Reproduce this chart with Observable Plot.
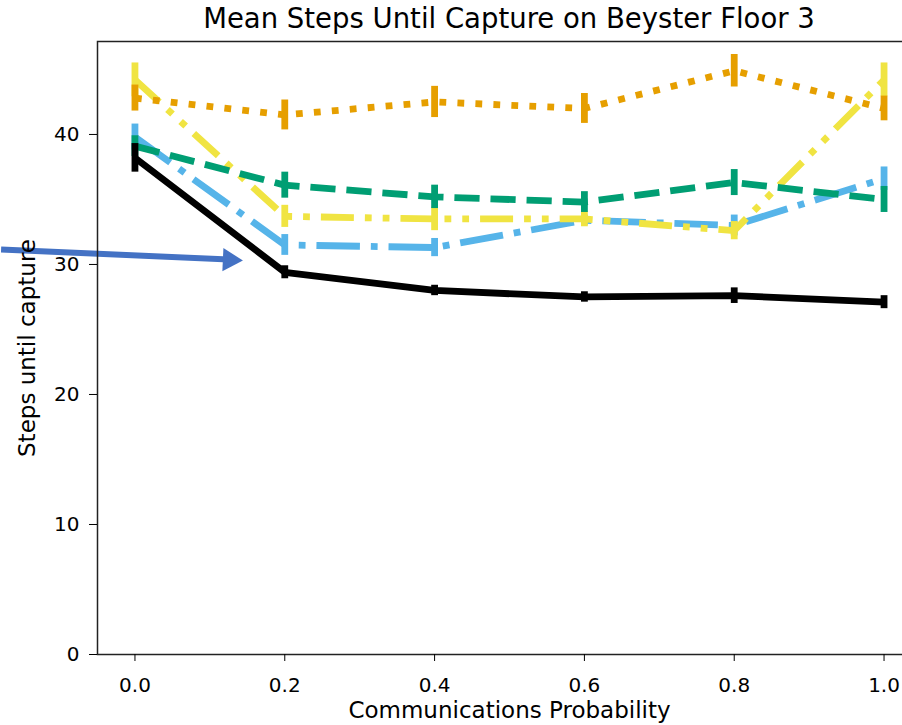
<!DOCTYPE html>
<html>
<head>
<meta charset="utf-8">
<script src="https://cdn.jsdelivr.net/npm/d3@7"></script>
<script src="https://cdn.jsdelivr.net/npm/@observablehq/plot@0.6"></script>
<style>
  body { margin: 0; background: #fff; }
  #wrap { position: relative; width: 902px; height: 725px; overflow: hidden; }
  #title { position: absolute; left: 97px; width: 824px; top: 0; height: 36px; line-height: 36px;
           text-align: center; font-family: "DejaVu Sans", sans-serif; font-size: 27.5px; color: #000; white-space: nowrap; }
  #chart { position: absolute; left: 0; top: 36px; }
</style>
</head>
<body>
<div id="wrap">
  <div id="title">Mean Steps Until Capture on Beyster Floor 3</div>
  <div id="chart"></div>
</div>
<script>
const probs = [0.0, 0.2, 0.4, 0.6, 0.8, 1.0];
const xTicks = [0.0, 0.2, 0.4, 0.6, 0.8, 1.0];
const yTicks = [0, 10, 20, 30, 40];

// series means and error half-widths
const blueMean   = [39.8, 31.5, 31.3, 33.4, 33.0, 36.6];
const blueErr    = [1.0, 0.8, 0.7, 0.4, 0.8, 0.9];
const yellowMean = [44.2, 33.7, 33.5, 33.5, 32.6, 44.2];
const yellowErr  = [1.3, 0.85, 0.9, 0.6, 0.7, 1.3];
const orangeMean = [42.8, 41.5, 42.5, 42.0, 44.9, 42.0];
const orangeErr  = [1.0, 1.15, 1.2, 1.15, 1.25, 0.95];
const greenMean  = [39.1, 36.1, 35.2, 34.8, 36.3, 35.0];
const greenErr   = [0.8, 1.0, 0.9, 0.8, 1.0, 1.0];
const blackMean  = [38.2, 29.4, 28.0, 27.5, 27.6, 27.1];
const blackErr   = [1.1, 0.5, 0.4, 0.4, 0.6, 0.5];

// annotation arrow (data units)
const arrowShaft = [{x: -0.1787, y: 31.15}, {x: 0.118, y: 30.40}];
const arrowHead  = [{x: 0.1263, y: 30.35}];

const lw = 6.8;
const series = [
  {name: "blue",   color: "#56B4E9", mean: blueMean,   err: blueErr,   dash: "43.5,10.9,6.8,10.9"},
  {name: "yellow", color: "#F0E442", mean: yellowMean, err: yellowErr, dash: "33,11,6.8,11,6.8,11"},
  {name: "orange", color: "#E69F00", mean: orangeMean, err: orangeErr, dash: "6.8,11.2"},
  {name: "green",  color: "#009E73", mean: greenMean,  err: greenErr,  dash: "25.2,10.9"},
  {name: "black",  color: "#000000", mean: blackMean,  err: blackErr,  dash: null}
];

const marks = [];
for (const s of series) {
  const rows = probs.map((p, i) => ({x: p, y: s.mean[i], lo: s.mean[i] - s.err[i], hi: s.mean[i] + s.err[i]}));
  marks.push(Plot.line(rows, {x: "x", y: "y", stroke: s.color, strokeWidth: lw,
    strokeDasharray: s.dash ?? undefined, strokeLinecap: "butt", strokeLinejoin: "round"}));
  marks.push(Plot.ruleX(rows, {x: "x", y1: "lo", y2: "hi", stroke: s.color, strokeWidth: lw, strokeLinecap: "butt"}));
}

marks.push(Plot.line(arrowShaft, {x: "x", y: "y", stroke: "#4472C4", strokeWidth: 6, strokeLinecap: "butt"}));
marks.push(Plot.dot(arrowHead, {x: "x", y: "y", symbol: "triangle", r: 8.6, fill: "#4472C4", stroke: "none", rotate: 92.6}));

marks.push(Plot.frame({stroke: "#222", strokeWidth: 1.5}));
marks.push(Plot.axisX({ticks: xTicks, tickFormat: d3.format(".1f"), tickSize: 7, tickPadding: 16,
  label: null, fontSize: 20}));
marks.push(Plot.axisY({ticks: yTicks, tickSize: 8, tickPadding: 10, label: null, fontSize: 20}));
marks.push(Plot.axisX({ticks: [], tickSize: 0, label: "Communications Probability", labelAnchor: "center",
  labelArrow: "none", labelOffset: 63, fontSize: 23}));
marks.push(Plot.axisY({ticks: [], tickSize: 0, label: "Steps until capture", labelAnchor: "center",
  labelArrow: "none", labelOffset: 79, fontSize: 23}));

const chart = Plot.plot({
  width: 902, height: 689,
  marginTop: 5, marginBottom: 71, marginLeft: 97, marginRight: -19,
  x: {domain: [-0.05, 1.05]},
  y: {domain: [0, 47.15]},
  style: {fontFamily: "DejaVu Sans, sans-serif", fontSize: "20px", color: "#000", background: "white"},
  marks
});
document.getElementById("chart").appendChild(chart);
</script>
</body>
</html>
